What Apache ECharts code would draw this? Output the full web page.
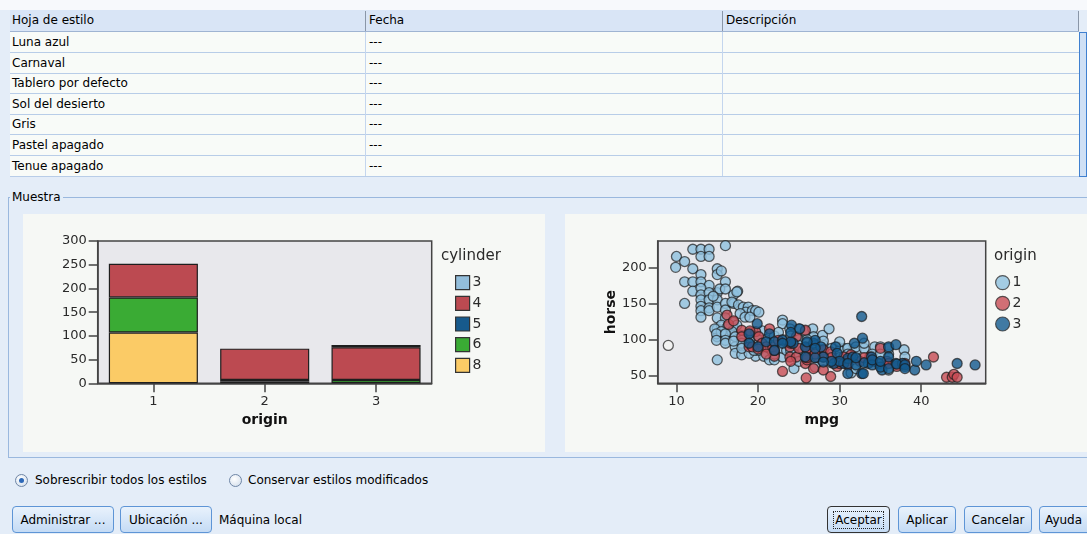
<!DOCTYPE html>
<html>
<head>
<meta charset="utf-8">
<script src="https://cdn.jsdelivr.net/npm/echarts@6/dist/echarts.min.js"></script>
<style>
html,body{margin:0;padding:0;}
body{width:1087px;height:534px;overflow:hidden;position:relative;background:#e4edf8;font-family:"DejaVu Sans",sans-serif;font-size:12px;color:#000;}
.abs{position:absolute;}
#topstrip{left:0;top:0;width:1087px;height:10px;background:#f7f9fc;}
#thead{left:10px;top:10px;width:1069px;height:21px;background:#d9e5f6;border-bottom:1px solid #9fb4d2;}
.hcell{position:absolute;top:0;height:21px;line-height:21px;padding-left:2px;white-space:nowrap;}
.hsep{position:absolute;top:1px;width:1px;height:20px;background:#8a96a8;}
#tbody{left:10px;top:32px;width:1069px;height:144px;background:#f8fbf8;}
.row{position:absolute;left:0;width:1069px;height:20px;line-height:20px;border-bottom:1px solid #b8cde8;}
.cell{position:absolute;top:0;padding-left:2px;white-space:nowrap;}
.csep{position:absolute;top:0;width:1px;height:144px;background:#c4d6ee;}
#scroll{left:1079px;top:32px;width:6px;height:143px;background:#cfe0f5;border:1px solid #3f80d0;}
#group{left:8px;top:197px;width:1090px;height:259px;border-left:1px solid #9ab8de;border-top:1px solid #9ab8de;border-bottom:1px solid #9ab8de;}
#glabel{left:10px;top:190px;padding:0 2px;background:#e4edf8;line-height:15px;font-size:12px;}
.panel{top:214px;height:238px;background:#f6f8f5;}
#chart{left:0;top:0;width:1087px;height:534px;z-index:2;pointer-events:none;}
.radio{position:absolute;width:11px;height:11px;border-radius:50%;border:1px solid #6f86a6;background:radial-gradient(circle at 40% 35%,#ffffff 0%,#dde6f0 70%,#c3d0e0 100%);}
.radio.on::after{content:"";position:absolute;left:3px;top:3px;width:5px;height:5px;border-radius:50%;background:#2c68b8;}
.rtext{position:absolute;line-height:14px;white-space:nowrap;}
.btn{position:absolute;top:506px;height:27px;line-height:27px;text-align:center;border:1px solid #5e95d6;border-radius:4px;background:linear-gradient(#e9f2fc,#c4dbf5);box-sizing:border-box;white-space:nowrap;}
.btn.focus{border:1px solid #333;}
.btn.focus span{outline:1px dotted #222;padding:1px 1px;}
</style>
</head>
<body>
<div id="topstrip" class="abs"></div>
<div id="thead" class="abs">
  <div class="hcell" style="left:0">Hoja de estilo</div>
  <div class="hsep" style="left:355px"></div>
  <div class="hcell" style="left:357px">Fecha</div>
  <div class="hsep" style="left:712px"></div>
  <div class="hcell" style="left:714px">Descripción</div>
  <div class="hsep" style="left:1068px"></div>
</div>
<div id="tbody" class="abs"></div>
<div id="scroll" class="abs"></div>
<div id="group" class="abs"></div>
<div id="glabel" class="abs">Muestra</div>
<div class="abs panel" style="left:23px;width:522px;"></div>
<div class="abs panel" style="left:565px;width:522px;"></div>

<div class="radio on" style="left:15px;top:474px"></div>
<div class="rtext" style="left:35px;top:473px">Sobrescribir todos los estilos</div>
<div class="radio" style="left:229px;top:474px"></div>
<div class="rtext" style="left:248px;top:473px">Conservar estilos modificados</div>

<div class="btn" style="left:12px;width:102px">Administrar ...</div>
<div class="btn" style="left:120px;width:92px">Ubicación ...</div>
<div class="rtext" style="left:219px;top:513px">Máquina local</div>
<div class="btn focus" style="left:827px;width:63px"><span>Aceptar</span></div>
<div class="btn" style="left:898px;width:58px">Aplicar</div>
<div class="btn" style="left:964px;width:68px">Cancelar</div>
<div class="btn" style="left:1039px;width:60px;text-align:left;padding-left:5px">Ayuda</div>

<div id="chart" class="abs"></div>

<script>
// ---------- table content ----------
const styleNames = ['Luna azul','Carnaval','Tablero por defecto','Sol del desierto','Gris','Pastel apagado','Tenue apagado'];
const styleDates = ['---','---','---','---','---','---','---'];

// ---------- bar chart data (count by origin, stacked by cylinder) ----------
const origins = ['1','2','3'];
const cylinderNames = ['3','4','5','6','8'];
const cyl3 = [0, 0, 5];
const cyl4 = [71, 66, 69];
const cyl5 = [0, 3, 0];
const cyl6 = [74, 4, 7];
const cyl8 = [107, 0, 0];

// ---------- scatter data (mpg, horse) by origin ----------
const origin1Points = [
 [10,215],[9.9,200],[11,208],[12,225],[13,225],[14,225],[13,215],[14,215],[16,230],[12,198],[13,190],[15,198],[15,190],[15.5,195],[16,180],
 [11,180],[12,180],[13,180],[14,175],[15,165],[15.3,170],[12,167],[13,171],[13,162],[13,155],[13,146],[13,140],[13,131],[14,165],[14,155],
 [14,144],[14,140],[15,155],[15,145],[16,150],[16,141],[17,162],[17.5,167],[11,150],[15,130],[16,130],[15,115],[15,104],[16,115],[16,106],
 [17,124],[17,115],[17,106],[18,106],[15,72],
 [14.5,160],[16,170],[17,150],[17.4,166],[16.8,152],[17.6,148],[18.2,145],[18.8,145],[18.5,138],[19.3,140],[19.7,140],[20.1,138],[17.8,136],
 [18.4,131],[19,131],[15.5,120],[16.3,118],[17.4,120],[14.7,115],[15.5,111],[16.8,111],[14.9,108],[16,108],[14.9,99],[16,99],[17.2,104],
 [18,99],[17.2,90],[18.2,90],[17.2,81],[18,79],[19.7,77],[20.7,77],[21.4,72],[22,72],[23,76],[23,127],[23,122],[23.9,115],[25,115],
 [25.8,111],[26.7,115],[26.8,104],[27.9,106],[28.7,115],[29.7,90],[30.6,88],[34.3,90],[35,90],[37.9,86],[37.7,67],[24.4,60],[31.4,54],
 [21.4,95],[19.7,95],[20.5,90],[18.9,81],[19,100],[19,110],[20,105],[20.5,112],[21,100],[21.5,88],[22,95],[22,105],[22.5,110],[23,100],
 [23,88],[23.5,85],[24,105],[24,90],[24.5,80],[25,100],[25,92],[25.5,85],[26,100],[26,90],[26,80],[27,92],[27,82],[28,92],[28,85],
 [29,88],[29,80],[30,85],[30,75],[31,88],[31,80],[32,85],[32,90],[33,88],[34,80],[34,70],[36,80],[36,88],[38,63],[36,58],[32,60],
 [27,62],[25,70],[29,68],[20,85],[18,95],[18,88],[16,95],[17,98],[19,93],[19.5,85],[22,80],[24,85],[26,95],[28,98],[30,97],[33,95],
 [35,80],[38,76]
];
const origin1Hollow = [9,92];
const origin2Points = [
 [16.2,134],[16.4,121],[17,126],[18,113],[18,104],[18.9,90],[19.3,90],[19.7,111],[20.1,104],[20.5,95],[21,90],[21.4,115],[21.8,90],
 [22,77],[22.5,99],[23,56],[23.9,90],[23.9,76],[24.7,76],[24.7,104],[25,88],[25.8,113],[25.8,67],[25.9,47],[26.4,81],[26.8,60],
 [27.2,76],[28,86],[28,76],[28.9,83],[28.9,49],[29.7,70],[29.7,63],[30.5,76],[31.4,79],[32.5,70],[33.7,76],[35,88],[35.8,70],
 [41.5,76],[43.1,48],[43.8,48],[44,52],[44.4,48],[20,87],[22,85],[24,95],[26,88],[27,80],[30,67],[31,71],[34,72],[36,67],
 [37,63],[38,67],[33,75],[29,75],[24,70],[21,80],[19,112],[26,72],[31,65],[26,75],[28,58]
];
const origin3Points = [
 [32.7,132],[19.9,122],[18.9,108],[18.9,95],[20,90],[21.4,108],[21,97],[22,97],[23,99],[24.1,120],[25.1,115],[24.3,95],[25.8,90],
 [26.8,95],[27,99],[27.7,90],[28,76],[29.5,90],[29.7,81],[29.3,67],[30.5,67],[31,53],[31.8,95],[32.8,102],[32.7,53],[32.9,53],
 [33.5,67],[33.9,76],[34.8,67],[35.2,58],[36,90],[36,76],[36.9,67],[36.9,93],[37.7,67],[39.2,58],[39.4,70],[40.6,65],[44.4,67],
 [46.6,65],[31,74],[25.8,76],[31.6,76],[27,75],[30,70],[31,67],[32,65],[33,68],[34,65],[35,62],[36,60],[37,66],[38,65],[29,70],
 [28,69],[27,88],[24,97],[22,85],[23,95],[32,75],[34,72],[35,70],[38,60],[26,97],[24,110]
];
const mpgTicks = [10,20,30,40];
const horseTicks = [50,100,150,200];
const countTicksMax = 300;

// ---------- build table ----------
(function(){
  const tb = document.getElementById('tbody');
  let html = '';
  styleNames.forEach((n,i)=>{
    html += '<div class="row" style="top:'+(i*20.6)+'px"><div class="cell" style="left:0">'+n+'</div><div class="cell" style="left:357px">'+styleDates[i]+'</div></div>';
  });
  html += '<div class="csep" style="left:355px"></div><div class="csep" style="left:712px"></div>';
  tb.innerHTML = html;
})();

// ---------- chart ----------
const FONT = 'DejaVu Sans';
const AX = '#444';
const TXT = '#2a2a2a';
const barColors = {'3':'#93bedb','4':'#bc4a51','5':'#175a8c','6':'#3aab34','8':'#fbcb66'};
const originColors = {'1':'#8fc0de','2':'#c84c55','3':'#135a8e'};
const nz = a => a.map(v => v === 0 ? null : v);
const barValues = {'3':cyl3,'4':cyl4,'5':cyl5,'6':cyl6,'8':cyl8};
const stackOrder = ['8','6','5','4','3'];

const chart = echarts.init(document.getElementById('chart'), null, {renderer:'canvas', devicePixelRatio:1});

const axisCommon = {
  axisLine:{show:true, lineStyle:{color:AX, width:1.5}},
  axisTick:{show:true, length:9, lineStyle:{color:AX, width:1.5}},
  axisLabel:{color:TXT, fontSize:13, fontFamily:FONT},
  splitLine:{show:false},
  nameTextStyle:{color:'#111', fontSize:14, fontWeight:'bold', fontFamily:FONT}
};

const barSeries = stackOrder.map(c => ({
  name:'c'+c, type:'bar', stack:'cyl', xAxisIndex:0, yAxisIndex:0,
  data:nz(barValues[c]), barCategoryGap:'20%',
  itemStyle:{color:barColors[c], borderColor:'#1e1e1e', borderWidth:1.2}
}));

const scatterStyle = o => ({color:originColors[o], borderColor:'rgba(25,25,25,0.85)', borderWidth:1.3});
const o1data = origin1Points.map(p => p).concat([{value:origin1Hollow, itemStyle:{color:'#f3f3f3', borderColor:'#333'}}]);

const scatterSeries = [
  {name:'o1', type:'scatter', xAxisIndex:1, yAxisIndex:1, symbolSize:10, data:o1data, itemStyle:scatterStyle('1')},
  {name:'o2', type:'scatter', xAxisIndex:1, yAxisIndex:1, symbolSize:10, data:origin2Points, itemStyle:scatterStyle('2')},
  {name:'o3', type:'scatter', xAxisIndex:1, yAxisIndex:1, symbolSize:10, data:origin3Points, itemStyle:scatterStyle('3')}
];

const option = {
  animation:false,
  backgroundColor:'transparent',
  textStyle:{fontFamily:FONT},
  title:[
    {text:'cylinder', left:441, top:249, padding:0, textStyle:{fontSize:15, fontWeight:'normal', color:TXT, fontFamily:FONT}},
    {text:'origin', left:994, top:249, padding:0, textStyle:{fontSize:15, fontWeight:'normal', color:TXT, fontFamily:FONT}}
  ],
  legend:[
    {data:cylinderNames.map(c=>'c'+c), formatter:n=>n.slice(1), orient:'vertical', left:455, top:275, padding:0,
     icon:'rect', itemWidth:14, itemHeight:14, itemGap:5.5,
     itemStyle:{borderColor:'#333', borderWidth:1.2},
     textStyle:{fontSize:14, color:TXT, fontFamily:FONT, padding:[0,0,0,-2]}},
    {data:['o1','o2','o3'], formatter:n=>n.slice(1), orient:'vertical', left:995, top:275, padding:0,
     icon:'circle', itemWidth:14, itemHeight:14, itemGap:5.5,
     itemStyle:{borderColor:'#333', borderWidth:1.2},
     textStyle:{fontSize:14, color:TXT, fontFamily:FONT, padding:[0,0,0,-2]}}
  ],
  grid:[
    {left:97.7, top:241, width:334, height:142.3, show:true, backgroundColor:'#e8e8ec', borderColor:AX, borderWidth:1.5, containLabel:false},
    {left:657.7, top:241, width:328, height:142.3, show:true, backgroundColor:'#e8e8ec', borderColor:AX, borderWidth:1.5, containLabel:false}
  ],
  xAxis:[
    Object.assign({}, axisCommon, {gridIndex:0, type:'category', data:origins, name:'origin', nameLocation:'middle', nameGap:30,
      axisTick:{show:true, alignWithLabel:true, length:9, lineStyle:{color:AX, width:1.5}},
      axisLabel:{color:TXT, fontSize:13, fontFamily:FONT, margin:12}}),
    Object.assign({}, axisCommon, {gridIndex:1, type:'value', min:7.7, max:47.9, name:'mpg', nameLocation:'middle', nameGap:30,
      axisTick:{show:true, length:9, lineStyle:{color:AX, width:1.5}, customValues:mpgTicks},
      axisLabel:{color:TXT, fontSize:13, fontFamily:FONT, margin:12, customValues:mpgTicks}})
  ],
  yAxis:[
    Object.assign({}, axisCommon, {gridIndex:0, type:'value', min:0, max:countTicksMax, interval:50,
      axisLabel:{color:TXT, fontSize:13, fontFamily:FONT, margin:11}}),
    Object.assign({}, axisCommon, {gridIndex:1, type:'value', min:39.6, max:236.4, name:'horse', nameLocation:'middle', nameGap:39,
      axisTick:{show:true, length:9, lineStyle:{color:AX, width:1.5}, customValues:horseTicks},
      axisLabel:{color:TXT, fontSize:13, fontFamily:FONT, margin:11, customValues:horseTicks}})
  ],
  series: barSeries.concat(scatterSeries)
};
chart.setOption(option);
</script>
</body>
</html>
